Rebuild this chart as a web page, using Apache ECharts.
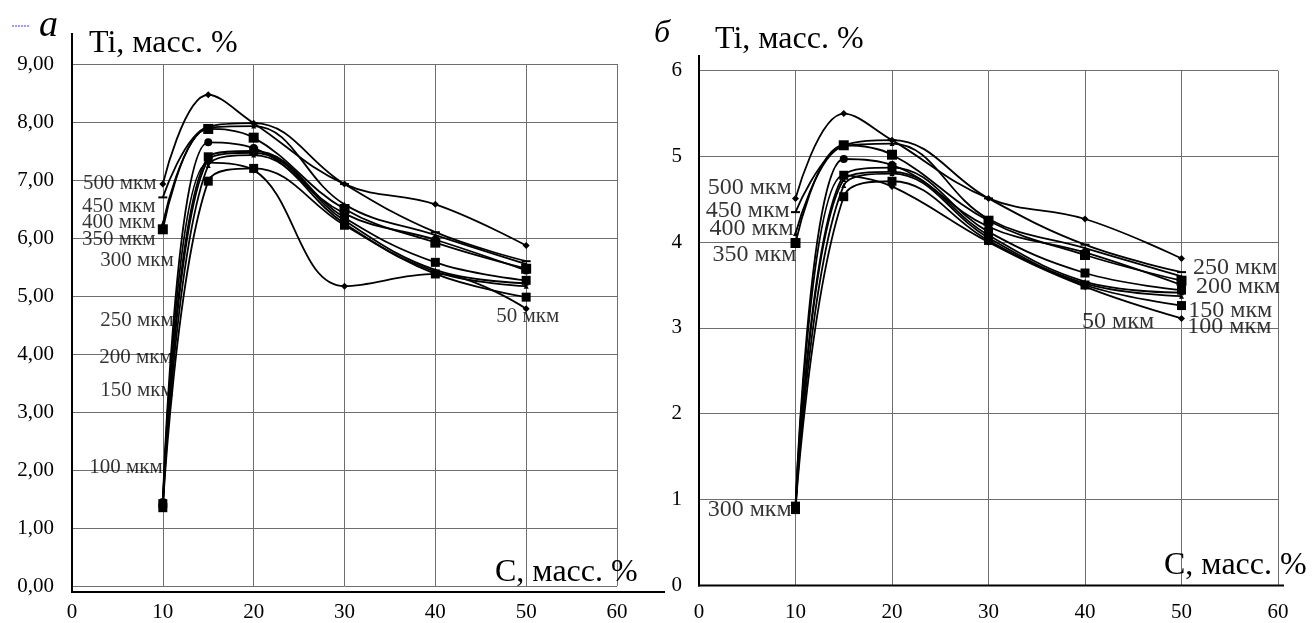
<!DOCTYPE html>
<html>
<head>
<meta charset="utf-8">
<script src="https://cdn.jsdelivr.net/npm/echarts@6/dist/echarts.min.js"></script>
<style>
html,body{margin:0;padding:0;background:#fff;}
#c{width:1314px;height:623px;}
</style>
</head>
<body>
<div id="c"></div>
<script>
// ---- data ----
var carbon = [10, 15, 20, 30, 40, 50];
var sizes = ['500', '450', '400', '350', '300', '250', '200', '150', '100', '50'];

// Chart а
var tiA_500 = [6.93, 8.47, 7.98, 6.93, 6.58, 5.87];
var tiA_450 = [6.70, 7.92, 7.98, 6.93, 6.10, 5.60];
var tiA_400 = [6.25, 7.90, 7.93, 6.58, 6.05, 5.55];
var tiA_350 = [6.15, 7.88, 7.73, 6.50, 5.92, 5.47];
var tiA_300 = [1.45, 7.65, 7.55, 6.42, 5.97, 5.44];
var tiA_250 = [1.42, 7.40, 7.50, 6.35, 5.58, 5.27];
var tiA_200 = [1.40, 7.35, 7.47, 6.30, 5.45, 5.22];
var tiA_150 = [1.38, 7.25, 7.43, 6.25, 5.42, 5.17];
var tiA_100 = [1.35, 6.98, 7.20, 6.22, 5.38, 4.98];
var tiA_50  = [1.40, 7.30, 7.17, 5.17, 5.38, 4.78];

// Chart б
var tiB_500 = [4.51, 5.50, 5.19, 4.51, 4.27, 3.81];
var tiB_450 = [4.35, 5.13, 5.19, 4.51, 3.97, 3.65];
var tiB_400 = [4.10, 5.12, 5.15, 4.27, 3.93, 3.60];
var tiB_350 = [3.99, 5.13, 5.02, 4.25, 3.85, 3.55];
var tiB_300 = [0.91, 4.97, 4.90, 4.18, 3.88, 3.50];
var tiB_250 = [0.92, 4.78, 4.87, 4.12, 3.64, 3.44];
var tiB_200 = [0.90, 4.73, 4.82, 4.08, 3.54, 3.41];
var tiB_150 = [0.89, 4.66, 4.80, 4.05, 3.52, 3.37];
var tiB_100 = [0.88, 4.53, 4.71, 4.02, 3.50, 3.26];
var tiB_50  = [0.90, 4.78, 4.65, 4.00, 3.48, 3.11];

// annotation labels (text, data x, data y)
var labelTextA = ['500 мкм','450 мкм','400 мкм','350 мкм','300 мкм','250 мкм','200 мкм','150 мкм','100 мкм','50 мкм'];
var labelXA = [1.2, 1.1, 1.1, 1.1, 3.1, 3.1, 3.0, 3.1, 1.9, 46.7];
var labelYA = [6.94, 6.55, 6.27, 5.97, 5.62, 4.58, 3.94, 3.37, 2.05, 4.65];

var labelTextB = ['500 мкм','450 мкм','400 мкм','350 мкм','300 мкм','250 мкм','200 мкм','150 мкм','100 мкм','50 мкм'];
var labelXB = [0.9, 0.7, 1.1, 1.4, 0.9, 51.2, 51.5, 50.7, 50.6, 39.7];
var labelYB = [4.63, 4.37, 4.16, 3.85, 0.88, 3.70, 3.48, 3.20, 3.01, 3.07];

var yTicksA = [0,1,2,3,4,5,6,7,8,9];
var yTicksB = [0,1,2,3,4,5,6];

// ---- styling ----
var FONT = 'Liberation Serif';
var seriesA = [tiA_500, tiA_450, tiA_400, tiA_350, tiA_300, tiA_250, tiA_200, tiA_150, tiA_100, tiA_50];
var seriesB = [tiB_500, tiB_450, tiB_400, tiB_350, tiB_300, tiB_250, tiB_200, tiB_150, tiB_100, tiB_50];
var symbols = ['diamond', 'rect', 'triangle', 'rect', 'circle', 'rect', 'triangle', 'triangle', 'rect', 'diamond'];
var symbolSizes = [7, [9, 2], 5, 10, 8, 9, 5, 5, 9, 7];

function lineSeries(arr, gi) {
  return arr.map(function (vals, i) {
    return {
      name: sizes[i] + (gi ? 'b' : 'a'),
      type: 'line',
      xAxisIndex: gi, yAxisIndex: gi,
      smooth: 0.4,
      symbol: symbols[i],
      symbolSize: symbolSizes[i],
      showSymbol: true,
      itemStyle: { color: '#000' },
      lineStyle: { color: '#000', width: 1.8 },
      data: carbon.map(function (c, k) { return [c, vals[k]]; }),
      z: 3
    };
  });
}
function labelSeries(texts, xs, ys, gi, fs) {
  return {
    type: 'scatter', xAxisIndex: gi, yAxisIndex: gi,
    symbolSize: 0, silent: true, z: 5,
    data: texts.map(function (t, i) { return { value: [xs[i], ys[i]], name: t }; }),
    label: {
      show: true, position: 'right', distance: 0,
      formatter: function (p) { return p.name; },
      color: '#000', fontFamily: FONT, fontSize: fs
    }
  };
}

var gridLine = { show: true, lineStyle: { color: '#6e6e6e', width: 1 } };

var chart = echarts.init(document.getElementById('c'), null, { renderer: 'canvas' });
var option = {
  animation: false,
  backgroundColor: '#fff',
  grid: [
    { left: 72, top: 64, width: 545, height: 528 },
    { left: 699, top: 70.7, width: 579, height: 515 }
  ],
  xAxis: [
    { type: 'value', gridIndex: 0, min: 0, max: 60, interval: 10,
      axisLine: { show: false }, axisTick: { show: false }, splitLine: gridLine,
      axisLabel: { margin: 16, color: '#000', fontFamily: FONT, fontSize: 21 } },
    { type: 'value', gridIndex: 1, min: 0, max: 60, interval: 10,
      axisLine: { show: false }, axisTick: { show: false }, splitLine: gridLine,
      axisLabel: { margin: 17, color: '#000', fontFamily: FONT, fontSize: 21 } }
  ],
  yAxis: [
    { type: 'value', gridIndex: 0, min: yTicksA[0], max: yTicksA[yTicksA.length - 1], interval: 1,
      axisLine: { show: false }, axisTick: { show: false }, splitLine: gridLine,
      axisLabel: { margin: 18, color: '#000', fontFamily: FONT, fontSize: 21,
        formatter: function (v) { return v.toFixed(2).replace('.', ','); } } },
    { type: 'value', gridIndex: 1, min: yTicksB[0], max: yTicksB[yTicksB.length - 1], interval: 1,
      axisLine: { show: false }, axisTick: { show: false }, splitLine: gridLine,
      axisLabel: { margin: 17, color: '#000', fontFamily: FONT, fontSize: 21 } }
  ],
  graphic: [
    // axis lines (extended like the original)
    { type: 'line', shape: { x1: 72, y1: 33, x2: 72, y2: 593 }, style: { stroke: '#000', lineWidth: 2 }, z: 10 },
    { type: 'line', shape: { x1: 71, y1: 592, x2: 665, y2: 592 }, style: { stroke: '#000', lineWidth: 2 }, z: 10 },
    { type: 'line', shape: { x1: 699, y1: 55, x2: 699, y2: 586.5 }, style: { stroke: '#000', lineWidth: 2 }, z: 10 },
    { type: 'line', shape: { x1: 698, y1: 585.6, x2: 1284, y2: 585.6 }, style: { stroke: '#000', lineWidth: 2 }, z: 10 },
    // small blue dashes near "а"
    { type: 'line', shape: { x1: 12, y1: 26, x2: 30, y2: 26 }, style: { stroke: '#3b3bff', lineWidth: 1, lineDash: [2, 1] }, z: 10 },
    // panel letters and axis titles
    { type: 'text', left: 39, top: 7, style: { text: 'а', font: 'italic 38px "Liberation Serif"', fill: '#000' }, z: 10 },
    { type: 'text', left: 654, top: 18, style: { text: 'б', font: 'italic 32px "Liberation Serif"', fill: '#000' }, z: 10 },
    { type: 'text', left: 89, top: 28, style: { text: 'Ti, масс. %', font: '32px "Liberation Serif"', fill: '#000' }, z: 10 },
    { type: 'text', left: 715, top: 24, style: { text: 'Ti, масс. %', font: '32px "Liberation Serif"', fill: '#000' }, z: 10 },
    { type: 'text', left: 495, top: 557, style: { text: 'C, масс. %', font: '32px "Liberation Serif"', fill: '#000' }, z: 10 },
    { type: 'text', left: 1164, top: 550, style: { text: 'C, масс. %', font: '32px "Liberation Serif"', fill: '#000' }, z: 10 }
  ],
  series: [].concat(
    lineSeries(seriesA, 0),
    lineSeries(seriesB, 1),
    [labelSeries(labelTextA, labelXA, labelYA, 0, 21),
     labelSeries(labelTextB, labelXB, labelYB, 1, 24)]
  )
};
chart.setOption(option);
</script>
</body>
</html>
